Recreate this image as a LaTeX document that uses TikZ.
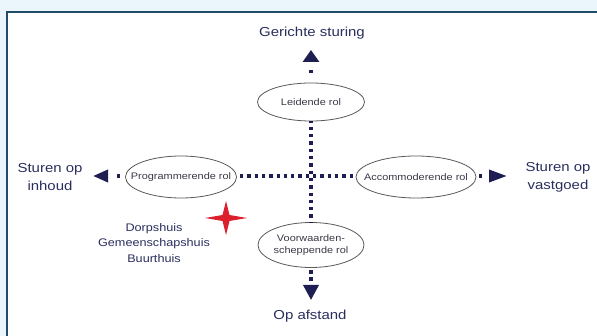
\documentclass[tikz,border=0pt]{standalone}
\usepackage{fontspec}
\usepackage{graphicx}
\setmainfont{Liberation Sans}
\usetikzlibrary{arrows.meta,shapes.geometric}
\definecolor{bgblue}{HTML}{EAF5FC}
\definecolor{framec}{HTML}{1F4E6B}
\definecolor{navy}{HTML}{1E1E52}
\definecolor{labelc}{HTML}{2A2E5E}
\definecolor{ellc}{HTML}{5A5A5A}
\definecolor{elltext}{HTML}{3A3A48}
\definecolor{starred}{HTML}{DC1F2D}
\newcommand{\hs}[1]{\scalebox{1.15}[1]{#1}}
\newcommand{\ct}[1]{\makebox[0pt]{\scalebox{1.15}[1]{#1}}}
\tikzset{
  biglabel/.style={text=labelc, font=\fontsize{13}{18}\selectfont, align=center, inner sep=0pt},
  houselabel/.style={text=labelc, font=\fontsize{11}{15.5}\selectfont, align=center, inner sep=0pt},
  roleell/.style={ellipse, draw=ellc, line width=0.8pt, text=elltext,
     font=\fontsize{9.5}{12}\selectfont, align=center, inner sep=0pt},
  dotline/.style={draw=navy, line width=3.4pt, line cap=butt, dash pattern=on 3.3pt off 4pt},
  tipline/.style={draw=navy, line width=3.4pt, line cap=butt},
}
\begin{document}
\begin{tikzpicture}[x=1pt,y=-1pt]
\useasboundingbox (0,0) rectangle (597,336);
\fill[bgblue] (0,0) rectangle (597,336);
\fill[white] (7,12) rectangle (597,336);
\draw[framec, line width=2pt] (7,337) -- (7,12) -- (598,12);

% role ellipses
\node[roleell, minimum width=107pt, minimum height=38pt] (lr) at (311,102) {\ct{Leidende rol}};
\node[roleell, minimum width=111pt, minimum height=42pt] (pr) at (181,177) {\ct{Programmerende rol}};
\node[roleell, minimum width=120pt, minimum height=42pt] (ac) at (416,177) {\ct{Accommoderende rol}};
\node[roleell, minimum width=106pt, minimum height=45pt] (vw) at (311,245) {\ct{Voorwaarden-}\\\ct{scheppende rol}};

% outer labels
\node[biglabel] (gs) at (312,33) {\hs{Gerichte sturing}};
\node[biglabel] (oa) at (310,316) {\hs{Op afstand}};
\node[biglabel] (si) at (50,177) {\hs{Sturen op}\\\hs{inhoud}};
\node[biglabel] (sv) at (558,177) {\hs{Sturen op}\\\hs{vastgoed}};
\node[houselabel] (dh) at (154,243) {\hs{Dorpshuis}\\\hs{Gemeenschapshuis}\\\hs{Buurthuis}};

% arrow tips positions
\coordinate (tipup) at (311,50);
\coordinate (downbase) at (311,285);
\coordinate (tipdown) at (311,300);
\coordinate (tipleft) at (93,176);
\coordinate (tipright) at (507,176);

% axes (gap at the crossing point)
\draw[dotline, dash phase=1.8pt] (lr.south) -- (vw.north);
\draw[dotline, dash phase=4.2pt] ([yshift=1pt]pr.east) -- ([yshift=1pt]ac.west);

% arrows to outer labels
\draw[tipline, dash pattern=on 0pt off 9.5pt on 3.3pt off 40pt, -{Triangle[width=16pt,length=12pt]}] (lr.north) -- (tipup);
\draw[tipline, dash pattern=on 0pt off 2.5pt on 3.3pt off 3.6pt on 3.3pt off 40pt] (vw.south) -- (downbase);
\draw[tipline, -{Triangle[width=15pt,length=15pt]}] (downbase) -- (tipdown);
\draw[tipline, dash pattern=on 0pt off 5.3pt on 3.3pt off 40pt, -{Triangle[width=12pt,length=15pt]}] ([yshift=1pt]pr.west) -- (tipleft);
\draw[tipline, dash pattern=on 0pt off 2.5pt on 3.3pt off 40pt, -{Triangle[width=12pt,length=18pt]}] ([yshift=1pt]ac.east) -- (tipright);

% star
\coordinate (st) at (226,218);
\fill[starred] ([xshift=21pt]st) -- ([xshift=3.5pt,yshift=3pt]st) -- ([yshift=17pt]st)
  -- ([xshift=-3.5pt,yshift=3pt]st) -- ([xshift=-21pt]st) -- ([xshift=-3.5pt,yshift=-3pt]st)
  -- ([yshift=-17pt]st) -- ([xshift=3.5pt,yshift=-3pt]st) -- cycle;
\end{tikzpicture}
\end{document}
